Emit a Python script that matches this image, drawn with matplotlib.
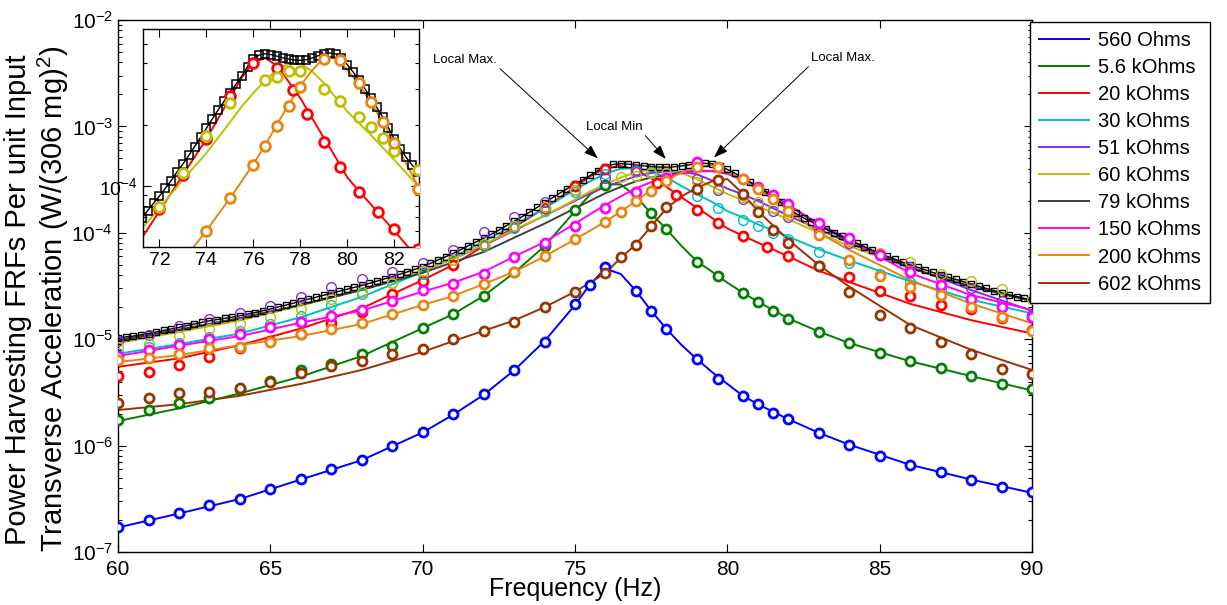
import matplotlib
matplotlib.use('Agg')
import matplotlib.pyplot as plt
import numpy as np
from matplotlib.ticker import NullFormatter, LogLocator, FixedLocator

plt.rcParams['font.family'] = ['Liberation Sans', 'DejaVu Sans']
plt.rcParams['mathtext.fontset'] = 'custom'
plt.rcParams['mathtext.rm'] = 'Liberation Sans'
plt.rcParams['mathtext.it'] = 'Liberation Sans:italic'

nan = np.nan

# ---- data ----
labels = ['560 Ohms', '5.6 kOhms', '20 kOhms', '30 kOhms', '51 kOhms',
          '60 kOhms', '79 kOhms', '150 kOhms', '200 kOhms', '602 kOhms']
colors = ['#0000FF', '#008000', '#FF0000', '#00BFBF', '#8A2BE2',
          '#BFBF00', '#404040', '#FF00FF', '#E8850F', '#993300']

# model curves (lines)
f_mod = [60, 62, 64, 66, 68, 70, 71, 72, 73, 74, 75, 75.5, 76, 76.5, 77, 77.5,
         78, 78.5, 79, 79.5, 80, 80.5, 81, 82, 83, 84, 86, 88, 90]
mod_560 = [1.7e-7, 2.3e-7, 3.15e-7, 4.8e-7, 7.3e-7, 1.33e-6, 1.95e-6, 3.0e-6, 5.1e-6, 9.6e-6,
           2.1e-5, 3.3e-5, 4.6e-5, 4.1e-5, 2.85e-5, 1.85e-5, 1.25e-5, 8.8e-6, 6.5e-6, 4.9e-6,
           3.8e-6, 2.95e-6, 2.45e-6, 1.77e-6, 1.32e-6, 1.02e-6, 6.6e-7, 4.8e-7, 3.6e-7]
mod_5k6 = [1.7e-6, 2.24e-6, 3.1e-6, 4.45e-6, 6.95e-6, 1.27e-5, 1.72e-5, 2.55e-5, 4.2e-5, 7.5e-5,
           1.6e-4, 2.3e-4, 2.85e-4, 2.85e-4, 2.2e-4, 1.52e-4, 1.08e-4, 7.5e-5, 5.4e-5, 4.3e-5,
           3.4e-5, 2.75e-5, 2.25e-5, 1.57e-5, 1.18e-5, 9.2e-6, 6.2e-6, 4.5e-6, 3.3e-6]
mod_20k = [5.5e-6, 6.6e-6, 8.8e-6, 1.26e-5, 1.95e-5, 3.6e-5, 5.0e-5, 7.5e-5, 1.13e-4, 1.7e-4,
           2.7e-4, 3.4e-4, 4.05e-4, 4.25e-4, 3.9e-4, 3.25e-4, 2.7e-4, 2.15e-4, 1.72e-4, 1.38e-4,
           1.1e-4, 9.4e-5, 8.1e-5, 6.0e-5, 4.4e-5, 3.45e-5, 2.15e-5, 1.51e-5, 1.13e-5]
mod_30k = [7.3e-6, 9.0e-6, 1.13e-5, 1.61e-5, 2.5e-5, 4.3e-5, 5.9e-5, 8.3e-5, 1.18e-4, 1.7e-4,
           2.55e-4, 3.05e-4, 3.6e-4, 4.0e-4, 4.05e-4, 3.8e-4, 3.3e-4, 2.75e-4, 2.3e-4, 1.95e-4,
           1.6e-4, 1.4e-4, 1.2e-4, 9.2e-5, 7.0e-5, 5.5e-5, 3.5e-5, 2.35e-5, 1.75e-5]
mod_51k = [9.6e-6, 1.2e-5, 1.55e-5, 2.1e-5, 2.95e-5, 4.4e-5, 5.7e-5, 7.6e-5, 1.05e-4, 1.45e-4,
           2.0e-4, 2.35e-4, 2.7e-4, 3.05e-4, 3.4e-4, 3.65e-4, 3.78e-4, 3.75e-4, 3.55e-4, 3.1e-4,
           2.6e-4, 2.3e-4, 2.0e-4, 1.45e-4, 1.08e-4, 8.0e-5, 4.8e-5, 2.9e-5, 1.85e-5]
mod_60k = [9.2e-6, 1.17e-5, 1.5e-5, 2.07e-5, 2.9e-5, 4.4e-5, 5.7e-5, 7.77e-5, 1.07e-4, 1.45e-4,
           2.05e-4, 2.45e-4, 2.86e-4, 3.3e-4, 3.72e-4, 3.98e-4, 3.99e-4, 3.65e-4, 3.2e-4, 2.72e-4,
           2.32e-4, 2.03e-4, 1.78e-4, 1.34e-4, 1.0e-4, 7.5e-5, 4.66e-5, 3.2e-5, 2.28e-5]
mod_79k = [9.8e-6, 1.23e-5, 1.58e-5, 2.1e-5, 2.9e-5, 4.2e-5, 5.3e-5, 6.6e-5, 9.0e-5, 1.22e-4,
           1.7e-4, 2.0e-4, 2.36e-4, 2.7e-4, 3.05e-4, 3.3e-4, 3.5e-4, 3.7e-4, 3.85e-4, 3.8e-4,
           3.6e-4, 3.2e-4, 2.72e-4, 1.83e-4, 1.18e-4, 8.3e-5, 4.66e-5, 3.12e-5, 2.28e-5]
mod_150k = [6.95e-6, 8.7e-6, 1.07e-5, 1.43e-5, 1.86e-5, 2.8e-5, 3.4e-5, 4.3e-5, 5.97e-5, 8.2e-5,
            1.22e-4, 1.5e-4, 1.83e-4, 2.2e-4, 2.62e-4, 3.0e-4, 3.4e-4, 3.62e-4, 3.77e-4, 3.8e-4,
            3.6e-4, 3.1e-4, 2.62e-4, 1.83e-4, 1.22e-4, 8.6e-5, 4.17e-5, 2.6e-5, 1.88e-5]
mod_200k = [6.1e-6, 7.1e-6, 8.8e-6, 1.07e-5, 1.39e-5, 2.1e-5, 2.55e-5, 3.3e-5, 4.3e-5, 6.0e-5,
            8.7e-5, 1.05e-4, 1.28e-4, 1.58e-4, 2.0e-4, 2.5e-4, 3.1e-4, 3.7e-4, 4.25e-4, 4.3e-4,
            3.72e-4, 3.15e-4, 2.58e-4, 1.65e-4, 1.0e-4, 6.9e-5, 3.6e-5, 2.16e-5, 1.41e-5]
mod_602k = [2.16e-6, 2.45e-6, 2.94e-6, 3.8e-6, 5.14e-6, 7.6e-6, 9.6e-6, 1.2e-5, 1.5e-5, 2.0e-5,
            2.8e-5, 3.4e-5, 4.2e-5, 5.8e-5, 7.8e-5, 1.15e-4, 1.7e-4, 2.2e-4, 2.65e-4, 3.05e-4,
            3.2e-4, 2.35e-4, 1.6e-4, 8.6e-5, 4.98e-5, 3.12e-5, 1.36e-5, 7.96e-6, 5.14e-6]

# experimental points (circles)
f_exp = [60, 61, 62, 63, 64, 65, 66, 67, 68, 69, 70, 71, 72, 73, 74, 75,
         75.5, 76, 76.5, 77, 77.5, 78, 79, 79.7, 80.5, 81, 81.5, 82,
         83, 84, 85, 86, 87, 88, 89, 90]
exp_560 = [1.73e-7, 2.0e-7, 2.34e-7, 2.75e-7, 3.17e-7, 3.94e-7, 4.82e-7, 6.07e-7, 7.3e-7, 9.9e-7,
           1.35e-6, 1.98e-6, 3.05e-6, 5.14e-6, 9.5e-6, 2.13e-5,
           3.23e-5, 4.8e-5, nan, 2.84e-5, 1.84e-5, 1.25e-5, 6.5e-6, 4.2e-6, 2.92e-6, 2.44e-6, 2.04e-6, 1.77e-6,
           1.32e-6, 1.01e-6, 8.0e-7, 6.6e-7, 5.7e-7, 4.8e-7, 4.1e-7, 3.64e-7]
exp_5k6 = [1.74e-6, 2.16e-6, 2.53e-6, 2.78e-6, 3.38e-6, 4.07e-6, 5.14e-6, 5.81e-6, 7.26e-6, 8.7e-6,
           1.28e-5, 1.72e-5, 2.57e-5, 4.3e-5, 7.5e-5, 1.64e-4,
           nan, 2.81e-4, nan, nan, 1.52e-4, 1.08e-4, 5.3e-5, 3.93e-5, 2.7e-5, 2.22e-5, 1.85e-5, 1.55e-5,
           1.18e-5, 9.15e-6, 7.36e-6, 6.28e-6, 5.32e-6, 4.51e-6, 3.77e-6, 3.38e-6]
exp_30k = [7.5e-6, 8.5e-6, 9.2e-6, 1.05e-5, 1.2e-5, 1.4e-5, 1.65e-5, 2.1e-5, 2.66e-5, 3.35e-5,
           4.1e-5, 5.5e-5, 7.5e-5, 1.1e-4, 1.6e-4, 2.4e-4,
           nan, 3.6e-4, nan, 3.8e-4, 3.7e-4, 3.3e-4, 2.2e-4, 1.7e-4, 1.32e-4, 1.15e-4, 1.0e-4, 8.7e-5,
           6.6e-5, 5.2e-5, 4.1e-5, 3.48e-5, 2.9e-5, 2.4e-5, 2.0e-5, 1.7e-5]
exp_51k = [9.6e-6, 1.1e-5, 1.32e-5, 1.55e-5, 1.75e-5, 2.05e-5, 2.5e-5, 3.12e-5, 3.66e-5, 4.3e-5,
           5.16e-5, 6.9e-5, 1.02e-4, 1.4e-4, 1.96e-4, 2.5e-4,
           nan, 3.3e-4, nan, 3.9e-4, nan, 3.3e-4, 3.2e-4, 2.52e-4, 2.1e-4, 1.85e-4, 1.6e-4, 1.4e-4,
           1.05e-4, 8.0e-5, 6.3e-5, 4.8e-5, 3.8e-5, 3.0e-5, 2.3e-5, 1.7e-5]
exp_60k = [8.5e-6, 9.0e-6, 1.07e-5, 1.24e-5, 1.39e-5, 1.63e-5, 1.91e-5, 2.37e-5, 2.8e-5, 3.35e-5,
           4.4e-5, 5.6e-5, 7.9e-5, 1.16e-4, 1.76e-4, 2.54e-4,
           nan, nan, 3.33e-4, 3.43e-4, 3.66e-4, 3.66e-4, 3.0e-4, 2.62e-4, 2.19e-4, 1.94e-4, 1.71e-4, 1.48e-4,
           1.2e-4, 8.4e-5, 6.5e-5, 5.36e-5, 4.07e-5, 3.53e-5, 2.99e-5, 2.4e-5]
exp_150k = [6.95e-6, 7.9e-6, 8.8e-6, 9.97e-6, 1.12e-5, 1.29e-5, 1.46e-5, 1.65e-5, 1.88e-5, 2.3e-5,
            2.9e-5, 3.3e-5, 4.07e-5, 5.97e-5, 8.0e-5, 1.15e-4,
            nan, 1.7e-4, nan, 2.44e-4, nan, 3.3e-4, 4.6e-4, nan, 3.2e-4, 2.7e-4, 2.27e-4, 1.85e-4,
            1.25e-4, 8.9e-5, 6.2e-5, 4.3e-5, 3.2e-5, 2.39e-5, 2.0e-5, 1.63e-5]
exp_200k = [6.4e-6, 6.6e-6, 7.26e-6, 8.2e-6, 8.5e-6, 9.5e-6, 1.12e-5, 1.25e-5, 1.43e-5, 1.72e-5,
            2.1e-5, 2.55e-5, 3.3e-5, 4.3e-5, 6.0e-5, 8.7e-5,
            nan, 1.27e-4, 1.57e-4, 1.97e-4, 2.48e-4, 3.05e-4, 4.2e-4, 4.15e-4, 3.2e-4, 2.58e-4, 2.07e-4, 1.62e-4,
            9.6e-5, 5.55e-5, 3.95e-5, 3.07e-5, 2.6e-5, 2.0e-5, 1.62e-5, 1.2e-5]
exp_602k = [2.49e-6, 2.78e-6, 3.1e-6, 3.17e-6, 3.46e-6, 3.93e-6, 4.85e-6, 5.6e-6, 6.3e-6, 7.26e-6,
            8.1e-6, 9.97e-6, 1.2e-5, 1.46e-5, 2.0e-5, 2.8e-5,
            nan, 4.2e-5, 5.97e-5, 7.7e-5, 1.15e-4, 1.74e-4, 2.56e-4, 3.13e-4, 2.3e-4, 1.58e-4, 1.06e-4, 8.0e-5,
            4.88e-5, 2.8e-5, 1.69e-5, 1.27e-5, 9.5e-6, 7.26e-6, 5.3e-6, 4.7e-6]
# 20 kOhm measured at slightly different frequencies
f_exp_20k = [60, 61, 62, 63, 64, 65, 66, 67, 68, 69, 70, 71, 72, 73, 74, 75, 76, 77,
             77.7, 78.3, 79, 79.7, 80.5, 81.3, 82, 83, 84, 85, 86, 87, 88, 89, 90]
exp_20k = [4.54e-6, 4.89e-6, 5.77e-6, 6.76e-6, 8.3e-6, 9.6e-6, 1.12e-5, 1.41e-5, 1.79e-5, 2.64e-5,
           3.55e-5, 4.98e-5, 7.7e-5, 1.13e-4, 1.7e-4, 2.75e-4, 4.0e-4, 3.8e-4,
           2.95e-4, 2.26e-4, 1.65e-4, 1.24e-4, 9.3e-5, 7.4e-5, 6.1e-5,
           4.9e-5, 3.87e-5, 2.86e-5, 2.55e-5, 2.1e-5, 1.91e-5, 1.59e-5, 1.22e-5]

# envelope (black squares), every 0.25 Hz from 60 to 90
f_env = np.arange(60, 90.01, 0.25)
env = [1.02e-5, 1.05e-5, 1.07e-5, 1.10e-5, 1.13e-5, 1.17e-5, 1.21e-5, 1.25e-5,
       1.29e-5, 1.34e-5, 1.39e-5, 1.44e-5, 1.49e-5, 1.53e-5, 1.57e-5, 1.61e-5,
       1.66e-5, 1.72e-5, 1.78e-5, 1.85e-5, 1.92e-5, 2.01e-5, 2.09e-5, 2.18e-5,
       2.28e-5, 2.38e-5, 2.48e-5, 2.59e-5, 2.70e-5, 2.82e-5, 2.94e-5, 3.07e-5,
       3.20e-5, 3.35e-5, 3.52e-5, 3.69e-5, 3.87e-5, 4.08e-5, 4.30e-5, 4.54e-5,
       4.80e-5, 5.15e-5, 5.55e-5, 5.95e-5, 6.40e-5, 6.95e-5, 7.55e-5, 8.20e-5,
       8.90e-5, 9.70e-5, 1.06e-4, 1.17e-4, 1.28e-4, 1.41e-4, 1.56e-4, 1.73e-4,
       1.92e-4, 2.13e-4, 2.36e-4, 2.60e-4, 2.86e-4, 3.15e-4, 3.46e-4, 3.85e-4,
       4.20e-4, 4.40e-4, 4.46e-4, 4.42e-4, 4.34e-4, 4.26e-4, 4.20e-4, 4.15e-4,
       4.14e-4, 4.17e-4, 4.25e-4, 4.36e-4, 4.46e-4, 4.50e-4, 4.45e-4, 4.25e-4,
       3.94e-4, 3.62e-4, 3.30e-4, 3.00e-4, 2.70e-4, 2.43e-4, 2.18e-4, 1.93e-4,
       1.70e-4, 1.52e-4, 1.38e-4, 1.27e-4, 1.17e-4, 1.08e-4, 1.00e-4, 9.30e-5,
       8.60e-5, 8.00e-5, 7.40e-5, 6.90e-5, 6.40e-5, 6.00e-5, 5.65e-5, 5.30e-5,
       5.00e-5, 4.73e-5, 4.48e-5, 4.24e-5, 4.02e-5, 3.83e-5, 3.65e-5, 3.47e-5,
       3.30e-5, 3.15e-5, 3.00e-5, 2.86e-5, 2.73e-5, 2.62e-5, 2.52e-5, 2.42e-5,
       2.33e-5]

models = [mod_560, mod_5k6, mod_20k, mod_30k, mod_51k, mod_60k, mod_79k, mod_150k, mod_200k, mod_602k]
exps = [(f_exp, exp_560), (f_exp, exp_5k6), (f_exp_20k, exp_20k), (f_exp, exp_30k),
        (f_exp, exp_51k), (f_exp, exp_60k), None, (f_exp, exp_150k),
        (f_exp, exp_200k), (f_exp, exp_602k)]
thin = {3, 4, 5}   # series drawn with thin open circles in the main plot


def style_axes(a, fs):
    a.tick_params(which='both', direction='in', top=True, right=True, labelsize=fs, width=0.8)
    a.tick_params(which='major', length=6)
    a.tick_params(which='minor', length=3)
    for s in a.spines.values():
        s.set_linewidth(1.0)


def draw_markers(a, idx, thin_set, ms=6.5):
    fx, vy = exps[idx]
    if idx in thin_set:
        a.plot(fx, vy, 'o', ls='none', mec=colors[idx], mfc='none', ms=ms + 0.5, mew=1.0, zorder=4)
    else:
        a.plot(fx, vy, 'o', ls='none', mec=colors[idx], mfc='white', ms=ms, mew=2.0, zorder=4)


fig = plt.figure(figsize=(12.27, 6.05), dpi=100)
ax = fig.add_axes([0.0962, 0.0876, 0.7449, 0.8793])

handles = []
for i in range(len(labels)):
    h, = ax.plot(f_mod, models[i], '-', color=colors[i], lw=1.4, zorder=2, label=labels[i])
    handles.append(h)
ax.plot(f_env, env, 'k-', lw=1.0, zorder=3)
ax.plot(f_env, env, 's', ls='none', mec='black', mfc='none', ms=5, mew=1.0, zorder=3)
for i in range(len(labels)):
    if exps[i] is not None:
        draw_markers(ax, i, thin)

ax.set_yscale('log')
ax.set_xlim(60, 90)
ax.set_ylim(1e-7, 1e-2)
ax.set_xticks([60, 65, 70, 75, 80, 85, 90])
style_axes(ax, 15)
ax.tick_params(axis='x', pad=6)
ax.yaxis.set_minor_formatter(NullFormatter())

ax.set_xlabel('Frequency (Hz)', fontsize=18)
ax.xaxis.set_label_coords(0.5, -0.047)
ax.xaxis.label.set_va('top')
ax.set_ylabel('Power Harvesting FRFs Per unit Input\n'
              'Transverse Acceleration (W/(306 mg)$^{2}$)', fontsize=21, linespacing=1.12)
ax.yaxis.set_label_coords(-0.052, 0.475)

# annotations
arrow = dict(arrowstyle='-|>,head_length=0.9,head_width=0.32', color='black', lw=0.7,
             shrinkA=0, shrinkB=0)
ax.annotate('Local Max.', xy=(75.75, 5.0e-4), xytext=(71.4, 4.2e-3), ha='center', va='center',
            fontsize=9.5, arrowprops=dict(arrow, relpos=(1.0, 0.0)))
ax.annotate('Local Min', xy=(77.98, 4.95e-4), xytext=(76.3, 9.9e-4), ha='center', va='center',
            fontsize=9.5, arrowprops=dict(arrow, relpos=(1.0, 0.0)))
ax.annotate('Local Max.', xy=(79.56, 5.1e-4), xytext=(83.8, 4.4e-3), ha='center', va='center',
            fontsize=9.5, arrowprops=dict(arrow, relpos=(0.0, 0.0)))

leg = ax.legend(handles=handles, loc='upper left', bbox_to_anchor=(0.8394, 0.9636),
                bbox_transform=fig.transFigure, fontsize=14.5, frameon=True, fancybox=False,
                edgecolor='black', framealpha=1, borderaxespad=0, borderpad=0.45,
                labelspacing=0.4, handlelength=2.5, handletextpad=0.45)
leg.get_frame().set_linewidth(1.0)

# inset zoom on the peak region
axi = fig.add_axes([0.1165, 0.5917, 0.225, 0.3603])
axi.plot(f_env, env, 'k-', lw=1.0, zorder=3)
axi.plot(f_env, env, 's', ls='none', mec='black', mfc='none', ms=6, mew=1.1, zorder=3)
for i in [2, 5, 8]:
    axi.plot(f_mod, models[i], '-', color=colors[i], lw=1.4, zorder=2)
    draw_markers(axi, i, set(), ms=7)
axi.set_yscale('log')
axi.set_xlim(71.3, 83.05)
axi.set_ylim(5.0e-5, 5.9e-4)
axi.set_xticks([72, 74, 76, 78, 80, 82])
axi.yaxis.set_major_locator(FixedLocator([1e-4]))
axi.yaxis.set_minor_locator(LogLocator(base=10, subs=np.arange(2, 10)))
axi.yaxis.set_minor_formatter(NullFormatter())
style_axes(axi, 14)

fig.savefig('out.png', dpi=100)
